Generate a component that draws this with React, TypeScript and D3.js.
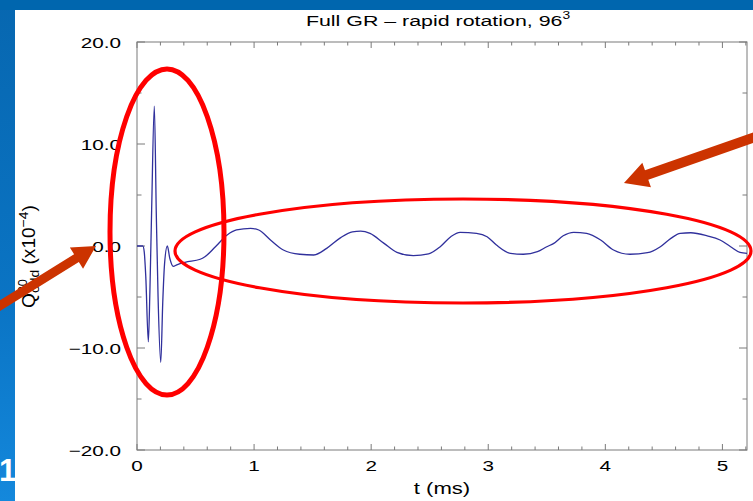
import React from "react";
import * as d3 from "d3";

// ---- data ----
const tData = [
  0.0, 0.05, 0.062, 0.075, 0.097, 0.11, 0.125, 0.148, 0.165, 0.18, 0.203, 0.22, 0.235, 0.259,
  0.28, 0.31, 0.34, 0.41, 0.54, 0.58, 0.67, 0.77, 0.85, 0.97, 1.04, 1.14, 1.25, 1.39, 1.51,
  1.62, 1.74, 1.84, 1.91, 1.99, 2.11, 2.22, 2.36, 2.49, 2.59, 2.68, 2.76, 2.9, 2.99, 3.07,
  3.19, 3.3, 3.42, 3.5, 3.56, 3.64, 3.73, 3.84, 3.96, 4.07, 4.21, 4.36, 4.47, 4.56, 4.64,
  4.73, 4.87, 4.98, 5.07, 5.15, 5.21,
];
const qData = [
  0.0, 0.0, -0.6, -3.0, -9.4, -4.5, 3.5, 13.7, 3.0, -5.0, -11.4, -5.5, -1.8, 0.0,
  -1.2, -2.0, -1.85, -1.6, -1.3, -1.05, -0.07, 1.08, 1.57, 1.73, 1.57, 0.59, -0.39, -0.81, -0.88,
  -0.23, 0.82, 1.38, 1.45, 1.24, 0.26, -0.62, -0.95, -0.78, -0.07, 0.91, 1.34, 1.24, 0.91, 0.1,
  -0.72, -0.81, -0.56, -0.07, 0.26, 1.0, 1.34, 1.24, 0.59, -0.39, -0.81, -0.66, -0.07, 0.75, 1.24,
  1.3, 1.0, 0.59, -0.07, -0.62, -0.72,
];
const xTicks = [0, 1, 2, 3, 4, 5];
const xTickLabels = ["0", "1", "2", "3", "4", "5"];
const xMinorTicks = [0.2, 0.4, 0.6, 0.8, 1.2, 1.4, 1.6, 1.8, 2.2, 2.4, 2.6, 2.8, 3.2, 3.4, 3.6, 3.8, 4.2, 4.4, 4.6, 4.8, 5.2];
const yTicks = [-20, -10, 0, 10, 20];
const yTickLabels = ["\u221220.0", "\u221210.0", "0.0", "10.0", "20.0"];
const yMinorTicks = [-15, -5, 5, 15];
const titleText = "Full GR \u2013 rapid rotation, 96";
const titleSup = "3";
const xLabel = "t (ms)";

const W = 753;
const H = 501;
const FONT = "'Liberation Sans', Arial, Helvetica, sans-serif";
const SX = 1.38; // horizontal stretch of the pasted figure

function STextC(props: any) {
  const { x, y, anchor, size, children, sx = SX } = props;
  return (
    <text
      transform={`translate(${x},${y}) scale(${sx},1)`}
      textAnchor={anchor}
      fontSize={size}
      fontFamily={FONT}
      fill="#000"
    >
      {children}
    </text>
  );
}

function arrowPoints(sx0: number, sy0: number, tx: number, ty: number, shaftW: number, headL: number, headW: number) {
  const dx = tx - sx0;
  const dy = ty - sy0;
  const len = Math.hypot(dx, dy);
  const ux = dx / len, uy = dy / len;
  const px = -uy, py = ux;
  const bx = tx - ux * headL, by = ty - uy * headL;
  const pts = [
    [sx0 + px * shaftW / 2, sy0 + py * shaftW / 2],
    [bx + px * shaftW / 2, by + py * shaftW / 2],
    [bx + px * headW / 2, by + py * headW / 2],
    [tx, ty],
    [bx - px * headW / 2, by - py * headW / 2],
    [bx - px * shaftW / 2, by - py * shaftW / 2],
    [sx0 - px * shaftW / 2, sy0 - py * shaftW / 2],
  ];
  return pts.map((p) => p.join(",")).join(" ");
}

export default function App() {
  const x = d3.scaleLinear().domain([0, 5.21]).range([137, 747]);
  const y = d3.scaleLinear().domain([-20, 20]).range([450, 42]);
  const pts = tData.map((t, i) => [t, qData[i]] as [number, number]);
  const line = d3
    .line<[number, number]>()
    .x((d) => x(d[0]))
    .y((d) => y(d[1]))
    .curve(d3.curveMonotoneX);

  const x0 = x(0), x1 = x(5.21), yTop = y(20), yBot = y(-20);
  const frame = "#7a7a7a";

  return (
    <svg
      width={W}
      height={H}
      viewBox={`0 0 ${W} ${H}`}
      style={{ position: "absolute", left: 0, top: 0, display: "block" }}
    >
      <defs>
        <linearGradient id="bgLeft" x1="0" y1="0" x2="0" y2="1">
          <stop offset="0" stopColor="#0767b0" />
          <stop offset="0.6" stopColor="#0a74c4" />
          <stop offset="1" stopColor="#1488dc" />
        </linearGradient>
      </defs>
      {/* slide background */}
      <rect x={0} y={0} width={W} height={H} fill="url(#bgLeft)" />
      <rect x={0} y={0} width={W} height={10} fill="#0066ae" />
      <text x={-1} y={481} fontSize={31} fontWeight="bold" fontFamily={FONT} fill="#ffffff">1</text>
      <rect x={15} y={10} width={W - 15} height={H - 10} fill="#ffffff" />

      {/* title */}
      <STextC x={438} y={26} anchor="middle" size={15.5}>
        {titleText}
        <tspan fontSize={10} dy={-7}>{titleSup}</tspan>
      </STextC>

      {/* frame */}
      <rect x={x0} y={yTop} width={x1 - x0} height={yBot - yTop} fill="none" stroke={frame} strokeWidth={1} />

      {/* x ticks */}
      {xTicks.map((t) => (
        <g key={"xt" + t}>
          <line x1={x(t)} x2={x(t)} y1={yBot} y2={yBot - 6} stroke={frame} />
          <line x1={x(t)} x2={x(t)} y1={yTop} y2={yTop + 6} stroke={frame} />
        </g>
      ))}
      {xMinorTicks.map((t) => (
        <g key={"xm" + t}>
          <line x1={x(t)} x2={x(t)} y1={yBot} y2={yBot - 3.5} stroke={frame} />
          <line x1={x(t)} x2={x(t)} y1={yTop} y2={yTop + 3.5} stroke={frame} />
        </g>
      ))}
      {/* y ticks */}
      {yTicks.map((v) => (
        <g key={"yt" + v}>
          <line x1={x0} x2={x0 + 8} y1={y(v)} y2={y(v)} stroke={frame} />
          <line x1={x1} x2={x1 - 8} y1={y(v)} y2={y(v)} stroke={frame} />
        </g>
      ))}
      {yMinorTicks.map((v) => (
        <g key={"ym" + v}>
          <line x1={x0} x2={x0 + 4.5} y1={y(v)} y2={y(v)} stroke={frame} />
          <line x1={x1} x2={x1 - 4.5} y1={y(v)} y2={y(v)} stroke={frame} />
        </g>
      ))}

      {/* tick labels */}
      {xTicks.map((t, i) => (
        <STextC key={"xl" + t} x={x(t)} y={471} anchor="middle" size={15}>
          {xTickLabels[i]}
        </STextC>
      ))}
      {yTicks.map((v, i) => (
        <STextC key={"yl" + v} x={121} y={y(v) + 5.5} anchor="end" size={15}>
          {yTickLabels[i]}
        </STextC>
      ))}

      {/* axis labels */}
      <STextC x={442} y={494} anchor="middle" size={16}>
        {xLabel}
      </STextC>
      <text
        transform={`translate(35,308) scale(1.2,1.27) rotate(-90)`}
        fontSize={15}
        fontFamily={FONT}
        fill="#000"
      >
        Q
        <tspan fontSize={10} dy={-7}>20</tspan>
        <tspan fontSize={11} dx={-11} dy={10}>odd</tspan>
        <tspan dy={-3}> (x10</tspan>
        <tspan fontSize={11} dy={-6}>{"\u22124"}</tspan>
        <tspan dy={6}>)</tspan>
      </text>

      {/* data curve */}
      <path d={line(pts) || ""} fill="none" stroke="#30309c" strokeWidth={1.3} />

      {/* annotations */}
      <ellipse cx={167} cy={232} rx={57} ry={163} fill="none" stroke="#ff0000" strokeWidth={5} />
      <ellipse cx={463} cy={251} rx={288} ry={52} fill="none" stroke="#ff0000" strokeWidth={3.2} />
      <polygon points={arrowPoints(-20, 318, 96, 246, 9, 23, 25)} fill="#cc3300" />
      <polygon points={arrowPoints(775, 130, 624, 183, 10, 24, 26)} fill="#cc3300" />
    </svg>
  );
}
